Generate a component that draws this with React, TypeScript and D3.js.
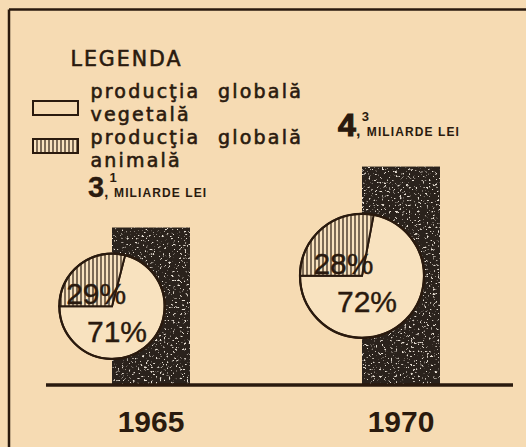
import React from 'react';
import * as d3 from 'd3';

// ---- data ----
const years = ['1965', '1970'];
const totals = [3.1, 4.3]; // miliarde lei
const totalInt = ['3', '4'];
const totalDec = ['1', '3'];
const animalShare = [29, 28];
const vegetalShare = [71, 72];
const legendTitle = 'LEGENDA';
const legendVegetal = ['producţia', 'globală', 'vegetală'];
const legendAnimal = ['producţia', 'globală', 'animală'];
const unitLabel = 'MILIARDE LEI';

// ---- style ----
const W = 526;
const H = 447;
const BG = '#f6dbb3';
const INK = '#2a1a0e';
const BAR = '#2a221c';
const PIE_BG = '#f8e2bf';

export default function App() {
  const x = d3.scalePoint<string>().domain(years).range([151, 401]);
  const y = d3.scaleLinear().domain([0, 5]).range([385, 131]);
  const r = d3.scaleSqrt().domain([0, 4.3]).range([0, 62]);
  const barW = 78;

  const pie = d3
    .pie<number>()
    .sort(null)
    .value((d) => d)
    .startAngle(-Math.PI / 2)
    .endAngle((3 * Math.PI) / 2);

  const legendFont = "'DejaVu Sans', sans-serif";
  const numFont = "'Liberation Sans', Arial, sans-serif";

  return (
    <svg
      width={W}
      height={H}
      viewBox={`0 0 ${W} ${H}`}
      style={{ position: 'fixed', left: 0, top: 0, display: 'block' }}
    >
      <defs>
        <pattern id="hatch" width={4} height={10} patternUnits="userSpaceOnUse">
          <rect width={4} height={10} fill={PIE_BG} />
          <line x1={1} y1={0} x2={1} y2={10} stroke={INK} strokeWidth={1.2} />
        </pattern>
        <filter id="speck" x="0" y="0" width="1" height="1" filterUnits="objectBoundingBox">
          <feTurbulence type="fractalNoise" baseFrequency="0.45" numOctaves={2} seed={11} result="n" />
          <feColorMatrix
            in="n"
            type="matrix"
            values="0 0 0 0 0.8  0 0 0 0 0.74  0 0 0 0 0.66  9 0 0 0 -5.6"
            result="s"
          />
          <feComposite in="s" in2="SourceGraphic" operator="in" />
        </filter>
      </defs>

      <rect x={0} y={0} width={W} height={H} fill={BG} />

      {/* frame */}
      <line x1={9} y1={9.5} x2={W} y2={9.5} stroke={INK} strokeWidth={2.5} />
      <line x1={9} y1={9.5} x2={9} y2={H} stroke={INK} strokeWidth={2.5} />

      {/* legend */}
      <g fill={INK} stroke={INK} fontFamily={legendFont}>
        <text x={70.5} y={66} fontSize={20.5} letterSpacing={2} strokeWidth={0.6}>
          {legendTitle}
        </text>
        <rect x={33} y={101} width={45} height={14} fill="none" strokeWidth={2} />
        <rect x={33} y={139} width={45} height={14} fill="url(#hatch)" strokeWidth={2} />
        <text fontSize={19} letterSpacing={2.2} strokeWidth={0.6}>
          <tspan x={90.5} y={98}>{legendVegetal[0]}</tspan>
          <tspan x={218} y={98}>{legendVegetal[1]}</tspan>
          <tspan x={90.5} y={120.5}>{legendVegetal[2]}</tspan>
          <tspan x={90.5} y={143.5}>{legendAnimal[0]}</tspan>
          <tspan x={218} y={143.5}>{legendAnimal[1]}</tspan>
          <tspan x={90.5} y={166.5}>{legendAnimal[2]}</tspan>
        </text>
      </g>

      {/* bars */}
      {years.map((yr, i) => {
        const bx = (x(yr) as number) - barW / 2;
        const top = y(totals[i]);
        return (
          <g key={'bar' + yr}>
            <rect x={bx} y={top} width={barW} height={y(0) - top} fill={BAR} />
            <rect x={bx} y={top} width={barW} height={y(0) - top} fill={BAR} filter="url(#speck)" />
          </g>
        );
      })}

      {/* baseline */}
      <line x1={46} y1={y(0)} x2={513} y2={y(0)} stroke={INK} strokeWidth={3.5} />

      {/* value labels */}
      {years.map((yr, i) => {
        const bx = (x(yr) as number) - barW / 2;
        const top = y(totals[i]);
        const lx = bx - 24;
        const ly = top - 31;
        const big = i === 0 ? 29 : 32;
        return (
          <g key={'val' + yr} fill={INK} fontFamily={numFont} fontWeight="bold">
            <text x={lx} y={ly} fontSize={big} stroke={INK} strokeWidth={i === 0 ? 0.3 : 1.2}>
              {totalInt[i]}
            </text>
            <text x={lx + big * 0.56} y={ly} fontSize={big * 0.5}>
              ,
            </text>
            <text x={lx + big * 0.74} y={ly - 15} fontSize={13}>
              {totalDec[i]}
            </text>
            <text x={lx + big * 0.9} y={ly} fontSize={12} letterSpacing={1.1}>
              {unitLabel}
            </text>
          </g>
        );
      })}

      {/* pies */}
      {years.map((yr, i) => {
        const cx = (x(yr) as number) - barW / 2;
        const cy = (y(totals[i]) + y(0)) / 2;
        const rr = r(totals[i]);
        const arcs = pie([animalShare[i], vegetalShare[i]]);
        const arc = d3.arc<d3.PieArcDatum<number>>().innerRadius(0).outerRadius(rr);
        return (
          <g key={'pie' + yr} transform={`translate(${cx},${cy})`}>
            <path d={arc(arcs[1]) || ''} fill={PIE_BG} stroke={INK} strokeWidth={2} />
            <path d={arc(arcs[0]) || ''} fill="url(#hatch)" stroke={INK} strokeWidth={2} />
            <circle r={rr} fill="none" stroke={INK} strokeWidth={2.2} />
            <g fill={INK} stroke={INK} strokeWidth={0.4} fontFamily={numFont} fontSize={30} textAnchor="middle">
              <text x={-rr * 0.3} y={-2}>{animalShare[i] + '%'}</text>
              <text x={5} y={36}>{vegetalShare[i] + '%'}</text>
            </g>
          </g>
        );
      })}

      {/* year labels */}
      {years.map((yr) => (
        <text
          key={'yr' + yr}
          x={x(yr) as number}
          y={432}
          textAnchor="middle"
          fontFamily={numFont}
          fontWeight="bold"
          fontSize={30}
          fill={INK}
        >
          {yr}
        </text>
      ))}
    </svg>
  );
}
